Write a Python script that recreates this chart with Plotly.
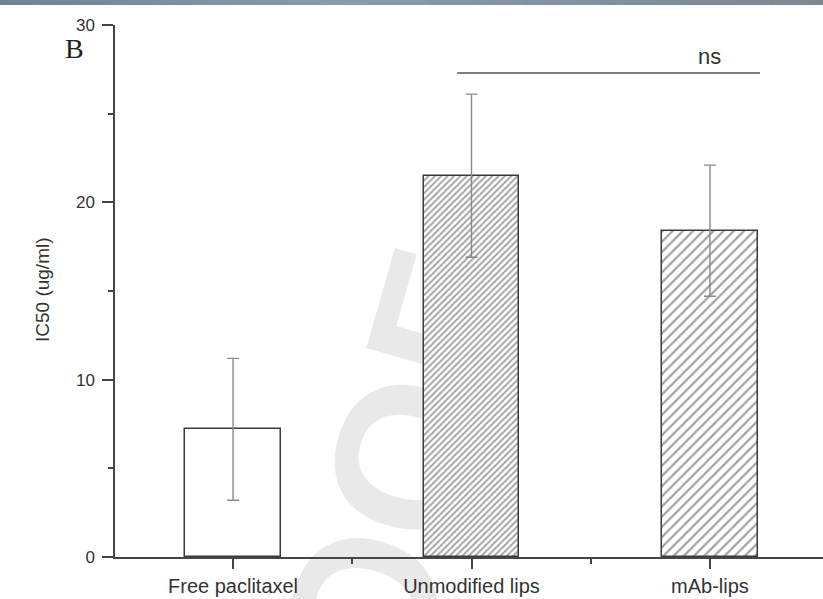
import plotly.graph_objects as go

# ---- data -------------------------------------------------------------
categories = ["Free paclitaxel", "Unmodified lips", "mAb-lips"]
ic50 = [7.2, 21.5, 18.4]          # ug/ml
ic50_err = [4.0, 4.6, 3.7]        # error bar half-length
y_ticks = [0, 10, 20, 30]
ns_span = [0.94, 2.21]            # extent of the comparison bracket (category units)
ns_level = 27.3                   # height of the bracket
ns_label = "ns"

# ---- styling ----------------------------------------------------------
hatch_shape = ["", "/", "/"]
hatch_size = [8, 4.5, 7.2]
hatch_solidity = [0.3, 0.4, 0.3]
bar_fill = ["rgba(255,255,255,0)", "white", "white"]
axis_col = "#454545"
font_family = "Arial, Liberation Sans, sans-serif"

W, H = 823, 599
ML, MR, MT, MB = 115, 0, 25, 42
pw, ph = W - ML - MR, H - MT - MB


def px_to_paper_x(px):
    return (px - ML) / pw


def px_to_paper_y(py):
    return (H - MB - py) / ph


fig = go.Figure()

fig.add_trace(go.Bar(
    x=list(range(len(categories))),
    y=ic50,
    width=0.4,
    marker=dict(
        color=bar_fill,
        line=dict(color="#3a3a3a", width=1.5),
        pattern=dict(shape=hatch_shape, size=hatch_size,
                     solidity=hatch_solidity, fgcolor="#3c3c3c",
                     fillmode="overlay"),
    ),
    error_y=dict(type="data", array=ic50_err, visible=True,
                 color="#8a8a8a", thickness=1.4, width=6),
    showlegend=False,
))

shapes = []

# header strip across the top of the page (soft blue-grey gradient)
stops = [(0, (0x6f, 0x82, 0x94)), (330, (0x8a, 0x9b, 0xab)), (823, (0x7c, 0x88, 0x92))]
n_seg = 60
for i in range(n_seg):
    a = W * i / n_seg
    b = W * (i + 1) / n_seg
    m = (a + b) / 2
    for (p0, c0), (p1, c1) in zip(stops[:-1], stops[1:]):
        if p0 <= m <= p1:
            t = (m - p0) / (p1 - p0)
            col = tuple(int(round(c0[k] + (c1[k] - c0[k]) * t)) for k in range(3))
            break
    shapes.append(dict(type="rect", xref="paper", yref="paper",
                       x0=px_to_paper_x(a), x1=px_to_paper_x(b + 0.6),
                       y0=px_to_paper_y(5), y1=px_to_paper_y(0),
                       line=dict(width=0), fillcolor="rgb(%d,%d,%d)" % col,
                       layer="above"))

# faint diagonal watermark behind the bars
wx, wy = px_to_paper_x(345), px_to_paper_y(605)
shapes.append(dict(type="rect", xref="paper", yref="paper",
                   x0=wx - 0.01, x1=wx + 0.01, y0=wy - 0.01, y1=wy + 0.01,
                   line=dict(width=0), fillcolor="rgba(0,0,0,0)", layer="below",
                   label=dict(text="PROOF", textangle=-74,
                              textposition="middle center",
                              font=dict(family="Liberation Sans, Arial, sans-serif",
                                        weight="bold", size=205,
                                        color="rgba(0,0,0,0.085)"))))

# significance bracket
shapes.append(dict(type="line", xref="x", yref="y",
                   x0=ns_span[0], x1=ns_span[1], y0=ns_level, y1=ns_level,
                   line=dict(color="#555555", width=1.5)))

annotations = [
    dict(text=ns_label, x=2.0, y=ns_level, xref="x", yref="y",
         yanchor="bottom", yshift=2, showarrow=False,
         font=dict(family=font_family, size=22, color="#333333")),
    dict(text="B", xref="paper", yref="paper",
         x=px_to_paper_x(63), y=px_to_paper_y(31), xanchor="left", yanchor="top",
         showarrow=False,
         font=dict(family="Times New Roman, Liberation Serif, serif", size=28, color="#222222")),
    dict(text="IC50 (ug/ml)", xref="paper", yref="paper",
         x=px_to_paper_x(42), y=px_to_paper_y(290), textangle=-90,
         xanchor="center", yanchor="middle",
         showarrow=False,
         font=dict(family=font_family, size=19, color="#333333")),
]

fig.update_layout(
    width=W, height=H,
    margin=dict(l=ML, r=MR, t=MT, b=MB, autoexpand=False),
    paper_bgcolor="white", plot_bgcolor="rgba(0,0,0,0)",
    shapes=shapes, annotations=annotations,
    bargap=0,
)

fig.update_xaxes(
    range=[-0.495, 2.474],
    tickvals=list(range(len(categories))), ticktext=categories,
    showline=True, linecolor=axis_col, linewidth=1.5,
    ticks="outside", ticklen=10, tickwidth=1.5, tickcolor=axis_col,
    minor=dict(tick0=0.5, dtick=1, ticks="outside", ticklen=5,
               tickwidth=1.5, tickcolor=axis_col),
    showgrid=False, zeroline=False,
    tickfont=dict(family=font_family, size=20, color="#333333"),
)

fig.update_yaxes(
    range=[0, 30],
    tickvals=y_ticks,
    showline=True, linecolor=axis_col, linewidth=1.5,
    ticks="outside", ticklen=11, tickwidth=1.5, tickcolor=axis_col,
    minor=dict(tick0=5, dtick=10, ticks="outside", ticklen=5,
               tickwidth=1.5, tickcolor=axis_col),
    showgrid=False, zeroline=False,
    ticklabelstandoff=4,
    tickfont=dict(family=font_family, size=17, color="#333333"),
)

fig.write_html("out.html")
